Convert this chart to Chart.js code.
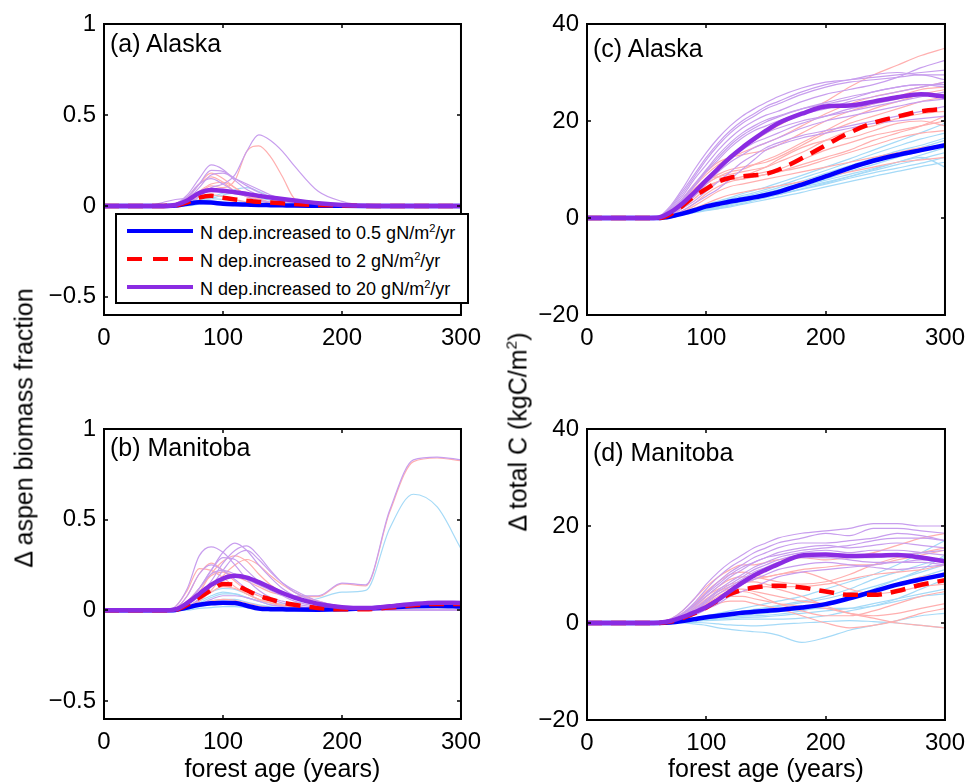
<!DOCTYPE html>
<html>
<head>
<meta charset="utf-8">
<title>N deposition experiments</title>
<script src="https://cdn.jsdelivr.net/npm/chart.js@4.4.1/dist/chart.umd.min.js"></script>
<style>
  body { margin: 0; background: #fff; }
  #fig { position: relative; width: 974px; height: 782px; overflow: hidden; font-family: 'Liberation Sans', Arial, sans-serif; color: #000; }
  #fig canvas { position: absolute; }
  .panel-label { position: absolute; font-size: 25px; line-height: 25px; white-space: nowrap; }
  .ytitle { position: absolute; font-size: 25px; line-height: 25px; white-space: nowrap; transform: translate(-50%, -50%) rotate(-90deg); }
  sup { font-size: 0.62em; vertical-align: 0.62em; line-height: 0; }
  .legend { position: absolute; left: 115px; top: 213px; width: 354px; height: 91px; box-sizing: border-box; border: 2px solid #000; background: #fff; font-size: 18px; }
  .legend .sample { position: absolute; left: 10px; width: 66px; height: 4px; }
  .legend .text { position: absolute; left: 83px; line-height: 18px; white-space: nowrap; }
</style>
</head>
<body>
<div id="fig">
  <canvas id="alaskaFrac" width="490" height="360" style="left:0;top:0"></canvas>
  <canvas id="manitobaFrac" width="490" height="380" style="left:0;top:405px"></canvas>
  <canvas id="alaskaC" width="494" height="360" style="left:480px;top:0"></canvas>
  <canvas id="manitobaC" width="494" height="380" style="left:480px;top:405px"></canvas>
  <div class="panel-label" style="left:110px;top:31px">(a) Alaska</div>
  <div class="panel-label" style="left:110px;top:435px">(b) Manitoba</div>
  <div class="panel-label" style="left:593px;top:36px">(c) Alaska</div>
  <div class="panel-label" style="left:593px;top:440px">(d) Manitoba</div>
  <div class="ytitle" style="left:24px;top:428px">&Delta; aspen biomass fraction</div>
  <div class="ytitle" style="left:518px;top:432px">&Delta; total C (kgC/m<sup>2</sup>)</div>
  <div class="legend" id="legend"></div>
</div>
<script>
// forest age of each sample (years)
var ages = [0, 20, 40, 50, 60, 70, 80, 90, 100, 110, 120, 130, 140, 150, 160, 180, 200, 220, 240, 260, 280, 300];
var ageTicks = [0, 100, 200, 300];
var fracTicks = [-0.5, 0, 0.5, 1];
var carbonTicks = [-20, 0, 20, 40];
var depRates = ['0.5', '2', '20'];

// (a) Alaska, aspen biomass fraction
var aBlue = [0, 0, 0, 0, 0.002, 0.012, 0.02, 0.018, 0.012, 0.009, 0.007, 0.005, 0.004, 0.003, 0.002, 0.001, 0, 0, 0, 0, 0, 0];
var aRed = [0, 0, 0, 0, 0.003, 0.02, 0.045, 0.055, 0.045, 0.035, 0.028, 0.022, 0.018, 0.014, 0.01, 0.005, 0.002, 0, 0, 0, 0, 0];
var aPurple = [0, 0, 0, 0, 0.005, 0.03, 0.07, 0.087, 0.083, 0.075, 0.066, 0.055, 0.046, 0.038, 0.03, 0.015, 0.005, 0.001, 0, 0, 0, 0];
var aThinBlue = [
  [0, 0, 0, 0, 0, 0.01, 0.03, 0.05, 0.07, 0.09, 0.1, 0.08, 0.05, 0.03, 0.015, 0.003, 0, 0, 0, 0, 0, 0],
  [0, 0, 0, 0, 0, 0.005, 0.02, 0.04, 0.06, 0.07, 0.06, 0.045, 0.03, 0.02, 0.01, 0, 0, 0, 0, 0, 0, 0],
  [0, 0, 0, 0, 0, 0.01, 0.03, 0.04, 0.035, 0.03, 0.02, 0.01, 0.005, 0, 0, 0, 0, 0, 0, 0, 0, 0],
  [0, 0, 0, 0, 0, 0, 0.01, 0.02, 0.02, 0.015, 0.01, 0.005, 0, 0, 0, 0, 0, 0, 0, 0, 0, 0]
];
var aThinRed = [
  [0, 0, 0, 0, 0, 0.02, 0.07, 0.11, 0.1, 0.14, 0.3, 0.33, 0.27, 0.16, 0.04, 0, 0, 0, 0, 0, 0, 0],
  [0, 0, 0, 0, 0.005, 0.04, 0.12, 0.18, 0.15, 0.1, 0.06, 0.035, 0.02, 0.01, 0.005, 0, 0, 0, 0, 0, 0, 0],
  [0, 0, 0, 0, 0.01, 0.05, 0.12, 0.16, 0.13, 0.08, 0.05, 0.03, 0.015, 0.008, 0, 0, 0, 0, 0, 0, 0, 0],
  [0, 0, 0, 0, 0, 0.03, 0.08, 0.12, 0.13, 0.1, 0.06, 0.04, 0.02, 0.01, 0, 0, 0, 0, 0, 0, 0, 0],
  [0, 0, 0, 0, 0, 0.02, 0.05, 0.06, 0.05, 0.035, 0.02, 0.01, 0.005, 0, 0, 0, 0, 0, 0, 0, 0, 0]
];
var aThinPurple = [
  [0, 0, 0, 0, 0, 0.01, 0.05, 0.1, 0.12, 0.17, 0.3, 0.39, 0.36, 0.3, 0.22, 0.08, 0.025, 0.003, 0, 0, 0, 0],
  [0, 0, 0, 0, 0.01, 0.06, 0.15, 0.225, 0.2, 0.14, 0.09, 0.06, 0.04, 0.025, 0.015, 0.005, 0, 0, 0, 0, 0, 0],
  [0, 0, 0, 0, 0.005, 0.04, 0.12, 0.195, 0.19, 0.15, 0.11, 0.075, 0.05, 0.03, 0.02, 0.008, 0.002, 0, 0, 0, 0, 0],
  [0, 0, 0, 0, 0, 0.03, 0.1, 0.17, 0.18, 0.15, 0.12, 0.09, 0.06, 0.04, 0.025, 0.01, 0.003, 0, 0, 0, 0, 0],
  [0, 0, 0, 0, 0.01, 0.05, 0.12, 0.15, 0.12, 0.08, 0.05, 0.03, 0.02, 0.01, 0.005, 0, 0, 0, 0, 0, 0, 0],
  [0, 0, 0.005, 0.02, 0.035, 0.04, 0.03, 0.02, 0.01, 0.005, 0, 0, 0, 0, 0, 0, 0, 0, 0, 0, 0, 0]
];

// (b) Manitoba, aspen biomass fraction
var bBlue = [0, 0, 0, 0, 0.002, 0.015, 0.03, 0.038, 0.042, 0.04, 0.025, 0.01, 0.006, 0.005, 0.004, 0.003, 0.005, 0.01, 0.016, 0.022, 0.024, 0.02];
var bRed = [0, 0, 0, 0, 0.003, 0.03, 0.07, 0.11, 0.145, 0.14, 0.11, 0.08, 0.06, 0.042, 0.03, 0.012, 0.005, 0.006, 0.015, 0.028, 0.035, 0.035];
var bPurple = [0, 0, 0, 0, 0.005, 0.04, 0.09, 0.14, 0.175, 0.19, 0.18, 0.155, 0.125, 0.095, 0.07, 0.035, 0.017, 0.012, 0.022, 0.035, 0.042, 0.04];
var bThinBlue = [
  [0, 0, 0, 0, 0, 0.02, 0.05, 0.08, 0.1, 0.09, 0.07, 0.05, 0.04, 0.035, 0.04, 0.065, 0.1, 0.11, 0.45, 0.64, 0.57, 0.34],
  [0, 0, 0, 0, 0, 0.02, 0.06, 0.1, 0.12, 0.115, 0.09, 0.06, 0.04, 0.025, 0.015, 0.005, 0, 0, 0, 0, 0, 0],
  [0, 0, 0, 0, 0, 0.01, 0.04, 0.07, 0.09, 0.09, 0.07, 0.05, 0.03, 0.02, 0.01, 0.003, 0, 0, 0, 0, 0, 0],
  [0, 0, 0, 0, 0, 0.01, 0.03, 0.05, 0.06, 0.06, 0.045, 0.03, 0.02, 0.01, 0.005, 0, 0, 0, 0, 0, 0, 0],
  [0, 0, 0, 0, 0, 0.005, 0.02, 0.03, 0.04, 0.035, 0.025, 0.015, 0.01, 0.005, 0, 0, 0, 0, 0, 0, 0, 0],
  [0, 0, 0, 0, 0, 0, 0.01, 0.015, 0.02, 0.02, 0.015, 0.01, 0.005, 0, 0, 0, 0, 0.005, 0.01, 0.015, 0.02, 0.02]
];
var bThinRed = [
  [0, 0, 0, 0, 0.01, 0.05, 0.12, 0.19, 0.21, 0.19, 0.16, 0.13, 0.1, 0.085, 0.075, 0.075, 0.145, 0.135, 0.54, 0.82, 0.84, 0.825],
  [0, 0, 0, 0, 0, 0.03, 0.1, 0.2, 0.27, 0.3, 0.27, 0.2, 0.14, 0.1, 0.07, 0.03, 0.01, 0, 0, 0, 0, 0],
  [0, 0, 0, 0, 0.01, 0.08, 0.2, 0.26, 0.22, 0.16, 0.11, 0.08, 0.05, 0.03, 0.02, 0.008, 0, 0, 0, 0, 0, 0],
  [0, 0, 0, 0, 0.02, 0.11, 0.23, 0.22, 0.18, 0.13, 0.09, 0.06, 0.04, 0.025, 0.015, 0.005, 0, 0, 0, 0, 0, 0],
  [0, 0, 0, 0, 0, 0.02, 0.05, 0.11, 0.19, 0.25, 0.28, 0.25, 0.19, 0.14, 0.1, 0.05, 0.02, 0.005, 0, 0, 0, 0],
  [0, 0, 0, 0, 0, 0.02, 0.06, 0.1, 0.13, 0.12, 0.09, 0.06, 0.04, 0.025, 0.015, 0.005, 0, 0, 0, 0, 0, 0],
  [0, 0, 0, 0, 0, 0.01, 0.03, 0.05, 0.06, 0.055, 0.04, 0.025, 0.015, 0.01, 0.005, 0, 0, 0, 0, 0, 0, 0]
];
var bThinPurple = [
  [0, 0, 0, 0, 0.01, 0.05, 0.12, 0.2, 0.22, 0.2, 0.17, 0.14, 0.11, 0.09, 0.08, 0.08, 0.15, 0.14, 0.55, 0.83, 0.845, 0.83],
  [0, 0, 0, 0, 0.02, 0.12, 0.3, 0.35, 0.32, 0.25, 0.17, 0.11, 0.07, 0.05, 0.035, 0.015, 0.005, 0, 0, 0, 0, 0],
  [0, 0, 0, 0, 0.005, 0.04, 0.12, 0.22, 0.32, 0.37, 0.33, 0.25, 0.18, 0.12, 0.08, 0.03, 0.01, 0, 0, 0, 0, 0],
  [0, 0, 0, 0, 0, 0.03, 0.08, 0.16, 0.26, 0.33, 0.355, 0.3, 0.22, 0.15, 0.1, 0.04, 0.012, 0, 0, 0, 0, 0],
  [0, 0, 0, 0, 0.01, 0.08, 0.2, 0.25, 0.22, 0.17, 0.12, 0.09, 0.06, 0.04, 0.025, 0.01, 0, 0, 0, 0, 0, 0],
  [0, 0, 0, 0, 0, 0.04, 0.12, 0.22, 0.29, 0.28, 0.22, 0.16, 0.11, 0.08, 0.05, 0.02, 0.005, 0, 0, 0, 0, 0],
  [0, 0, 0, 0, 0, 0.02, 0.06, 0.13, 0.22, 0.3, 0.33, 0.28, 0.21, 0.15, 0.11, 0.05, 0.02, 0.005, 0, 0, 0, 0],
  [0, 0, 0, 0, 0, 0.01, 0.03, 0.06, 0.08, 0.08, 0.07, 0.05, 0.03, 0.02, 0.01, 0.005, 0.005, 0.01, 0.02, 0.035, 0.045, 0.045]
];

// (c) Alaska, total carbon (kgC/m2)
var cBlue = [0, 0, 0, 0, 0, 0.3, 0.9, 1.6, 2.4, 2.9, 3.4, 3.8, 4.25, 4.75, 5.35, 6.9, 8.6, 10.3, 11.8, 13.0, 14.0, 15.0];
var cRed = [0, 0, 0, 0, 0, 0.8, 2.5, 4.5, 6.0, 7.5, 8.3, 8.6, 8.8, 9.1, 9.9, 12.3, 15.0, 17.6, 19.6, 20.9, 22.0, 22.5];
var cPurple = [0, 0, 0, 0, 0.1, 1.2, 3.0, 5.3, 7.8, 10.2, 12.5, 14.5, 16.3, 18.0, 19.5, 21.5, 23.0, 23.2, 24.0, 24.9, 25.5, 25.0];
var cThinBlue = [
  [0, 0, 0, 0, 0, 0.4, 1.2, 2, 2.8, 3.5, 4.2, 5, 5.7, 6.4, 7.2, 8.8, 10.5, 12.2, 14, 15.8, 17.6, 19.5],
  [0, 0, 0, 0, 0, 0.3, 1, 1.8, 2.5, 3.1, 3.7, 4.3, 4.9, 5.5, 6.2, 7.6, 9.2, 10.8, 12.3, 13.8, 15, 16.5],
  [0, 0, 0, 0, 0, 0.3, 0.9, 1.5, 2.1, 2.7, 3.2, 3.7, 4.2, 4.8, 5.4, 6.7, 8.1, 9.6, 11, 12.5, 13.8, 15],
  [0, 0, 0, 0, 0, 0.2, 0.8, 1.3, 1.8, 2.3, 2.8, 3.3, 3.8, 4.3, 4.8, 6, 7.2, 8.5, 9.8, 11, 12.2, 13.5],
  [0, 0, 0, 0, 0, 0.2, 0.6, 1.1, 1.5, 1.9, 2.3, 2.8, 3.3, 3.8, 4.3, 5.3, 6.4, 7.5, 8.6, 9.6, 10.6, 11.5],
  [0, 0, 0, 0, 0, 0.2, 0.7, 1.2, 1.7, 2.2, 2.8, 3.4, 4, 4.6, 5.2, 6.5, 7.8, 9, 10.2, 11.5, 12.5, 10.5],
  [0, 0, 0, 0, 0, 0.3, 1, 1.6, 2.3, 3, 3.6, 4.1, 4.6, 5.2, 5.8, 7.2, 8.6, 10, 11.5, 13, 14.5, 16],
  [0, 0, 0, 0, 0, 0.3, 0.9, 1.4, 1.9, 2.4, 2.9, 3.5, 4.1, 4.7, 5.3, 6.4, 7.4, 8.6, 10, 11.5, 13, 14.5],
  [0, 0, 0, 0, 0, 0.4, 1.1, 1.9, 2.6, 3.3, 3.9, 4.6, 5.2, 5.9, 6.6, 8.2, 9.8, 11.5, 13.2, 14.8, 16.3, 17.5],
  [0, 0, 0, 0, 0, 0.2, 0.7, 1.2, 1.6, 2, 2.5, 3, 3.6, 4.2, 4.8, 5.9, 7, 8.2, 9.3, 10.3, 11.3, 12.5]
];
var cThinRed = [
  [0, 0, 0, 0, 0.1, 1, 3, 5.5, 8, 10.5, 12.5, 14.5, 16, 17.5, 19, 21.5, 24, 27, 29.5, 31.5, 33.5, 35],
  [0, 0, 0, 0, 0.1, 1.5, 4, 7, 9.5, 11.5, 12.5, 13, 13.5, 14, 15, 17.5, 20, 22, 23.5, 25, 26.5, 27],
  [0, 0, 0, 0, 0, 1, 3, 5.5, 7.5, 9, 10, 10.5, 11, 11.5, 12.5, 15, 17.5, 19.5, 21, 22.5, 24, 25],
  [0, 0, 0, 0, 0, 0.8, 2.5, 5, 7, 8.5, 9, 9.5, 10, 10.5, 11.5, 13.5, 16, 18, 19, 20.5, 21.5, 22],
  [0, 0, 0, 0, 0, 0.6, 2, 4, 6, 7.5, 8, 8.5, 9, 9.5, 10, 12, 14, 15.5, 17, 18, 19, 20],
  [0, 0, 0, 0, 0, 0.5, 1.5, 3, 5, 6.5, 7.5, 8, 8.5, 9, 9.5, 10.5, 12, 13.5, 15, 16.5, 17.5, 18],
  [0, 0, 0, 0, 0, 0.4, 1.2, 2.5, 4, 5.5, 6.5, 7, 7.5, 8, 8.5, 9.5, 10.5, 11.5, 12.5, 13.5, 14.5, 15],
  [0, 0, 0, 0, 0, 0.3, 1, 2, 3, 4, 4.8, 5.3, 5.8, 6.2, 6.6, 7.5, 8.5, 9.5, 10.5, 11.5, 12, 12.5],
  [0, 0, 0, 0, 0.1, 1.2, 3.5, 6, 8, 8.5, 8, 8.5, 9.5, 10.5, 12, 14.5, 16, 16.5, 18, 19.5, 20, 19],
  [0, 0, 0, 0, 0, 0.9, 2.8, 5, 7, 8.5, 9.5, 10, 11, 12, 13, 15.5, 18, 20.5, 22.5, 24, 25.5, 26.5],
  [0, 0, 0, 0, 0, 0.7, 2.2, 4.5, 6.5, 7.5, 8, 8, 8.5, 9, 9.5, 11, 12.5, 14, 16, 17.5, 19, 21],
  [0, 0, 0, 0, 0.1, 1.2, 3.5, 6.5, 9, 11, 12.5, 13.5, 14.5, 15.5, 16.5, 19, 21.5, 23.5, 25, 26, 27, 28]
];
var cThinPurple = [
  [0, 0, 0, 0, 0.3, 2.5, 6, 10, 13.5, 16.5, 19, 21, 22.5, 23.8, 25, 26.8, 28, 28.5, 29.5, 30, 29.5, 29.5],
  [0, 0, 0, 0, 0.2, 2, 5, 8.5, 12, 15, 17.5, 19.5, 21, 22.5, 23.5, 25.5, 27, 28, 28.5, 29, 29.5, 28.5],
  [0, 0, 0, 0, 0.2, 1.8, 4.5, 8, 11, 14, 16.5, 18.5, 20, 21.2, 22, 24, 25.5, 26.5, 27.5, 29, 31, 32.5],
  [0, 0, 0, 0, 0.1, 1.5, 4, 7, 10, 13, 15.5, 17.5, 19, 20.2, 21, 22.5, 23.5, 24.5, 26, 27, 27.5, 27],
  [0, 0, 0, 0, 0.1, 1.2, 3.5, 6.5, 9.5, 12, 14.5, 16.5, 18, 19, 20, 21.5, 22.5, 24, 25, 26, 27, 28],
  [0, 0, 0, 0, 0, 1, 3, 5.5, 8, 10.5, 12.5, 14.5, 16, 17.5, 18.5, 20, 21, 22, 23, 24, 25, 26],
  [0, 0, 0, 0, 0, 0.8, 2.5, 4.5, 7, 9.5, 11.5, 13, 14.5, 15.5, 16.5, 18.5, 20, 21, 22, 23, 24, 24.5],
  [0, 0, 0, 0, 0, 0.6, 2, 3.5, 5.5, 7.5, 9.5, 11.5, 13, 14.5, 15.5, 17, 18, 19, 20, 21, 22, 23],
  [0, 0, 0, 0, 0, 0.4, 1.5, 3, 4.5, 6, 8, 10, 12, 14, 15, 16.5, 17.5, 18.5, 19.5, 20, 20.5, 21],
  [0, 0, 0, 0, 0.2, 2.2, 5.5, 9, 12.5, 15.5, 18, 20, 21.5, 23, 24, 26, 27.5, 28.5, 29, 29.5, 30, 30.5],
  [0, 0, 0, 0, 0.1, 1.4, 3.8, 6.8, 9.8, 12.5, 15, 17, 18.5, 19.8, 20.8, 22.5, 23.8, 25, 26, 27, 27.5, 27.5],
  [0, 0, 0, 0, 0, 0.9, 2.8, 5, 7.5, 10, 12, 14, 15.5, 16.5, 17.5, 19.5, 21, 22.5, 23.5, 24.5, 25.5, 25.5]
];

// (d) Manitoba, total carbon (kgC/m2)
var dBlue = [0, 0, 0, 0, 0, 0.1, 0.4, 0.8, 1.2, 1.5, 1.8, 2.1, 2.3, 2.5, 2.7, 3.2, 3.9, 5.1, 6.5, 7.9, 9.0, 10.0];
var dRed = [0, 0, 0, 0, 0, 0.3, 1, 2, 3.2, 4.7, 6, 6.8, 7.3, 7.6, 7.7, 7.3, 6.5, 5.8, 5.8, 6.6, 7.9, 8.8];
var dPurple = [0, 0, 0, 0, 0.05, 0.4, 1.2, 2.2, 3.3, 4.8, 6.6, 8.3, 9.8, 11.0, 12.1, 13.9, 14.1, 13.8, 13.9, 14.0, 13.5, 12.7];
var dThinBlue = [
  [0, 0, 0, 0, 0, 0.2, 0.5, 1, 1.5, 2, 2.5, 3, 3.5, 4, 4.5, 5.5, 7, 8.5, 10, 12, 14.5, 17],
  [0, 0, 0, 0, 0, 0.1, 0.4, 0.8, 1.2, 1.6, 2, 2.4, 2.8, 3.2, 3.6, 4.5, 5.5, 7, 9, 10.5, 12, 13.5],
  [0, 0, 0, 0, 0, 0.1, 0.3, 0.6, 0.9, 1.2, 1.5, 1.8, 2, 2.2, 2.4, 3, 4, 5, 6.5, 8, 9.5, 11],
  [0, 0, 0, 0, 0, 0, 0.2, 0.4, 0.6, 0.8, 1, 1.1, 1.2, 1.3, 1.5, 2, 2.5, 3, 4, 5, 6, 7],
  [0, 0, 0, 0, 0, 0, 0, -0.2, -0.5, -1, -1.3, -1.6, -1.8, -2, -2.5, -4, -3, -1.5, -0.5, 0.5, 1.5, 2],
  [0, 0, 0, 0, 0, 0, 0.1, 0.1, 0, -0.2, -0.4, -0.5, -0.6, -0.5, -0.3, 0, 0.3, 0.5, 0.3, 0, -0.5, -1],
  [0, 0, 0, 0, 0, 0.1, 0.3, 0.5, 0.8, 1, 1.3, 1.5, 1.8, 2, 2.3, 2.8, 3, 3, 3.5, 4.5, 5.5, 6],
  [0, 0, 0, 0, 0, 0.1, 0.4, 0.7, 1, 1.4, 1.8, 2.2, 2.6, 3, 3.4, 4.2, 5, 6.2, 7.5, 9, 10.5, 12],
  [0, 0, 0, 0, 0, 0.1, 0.2, 0.4, 0.5, 0.6, 0.7, 0.8, 0.8, 0.8, 0.8, 1, 1.5, 2.5, 3.5, 5, 7, 9],
  [0, 0, 0, 0, 0, 0.1, 0.3, 0.6, 0.9, 1.1, 1.3, 1.4, 1.5, 1.6, 1.8, 2.5, 3.5, 5, 7, 9, 11, 14]
];
var dThinRed = [
  [0, 0, 0, 0, 0.1, 0.8, 2.5, 5, 7.5, 9.5, 11, 12, 12, 12.5, 13, 13.5, 13, 13.5, 14.5, 16, 17.5, 18.5],
  [0, 0, 0, 0, 0, 0.6, 2, 4, 6.5, 8.5, 10, 10.5, 10, 9.5, 10, 11, 11.5, 12, 12, 13, 14, 15],
  [0, 0, 0, 0, 0, 0.5, 1.7, 3.5, 5.5, 7, 8, 8.5, 8.5, 8, 7.5, 7.5, 8, 9, 10, 10.5, 11, 12],
  [0, 0, 0, 0, 0, 0.4, 1.4, 3, 4.5, 6, 7, 7, 6.5, 6, 5.5, 4.5, 4, 5, 6.5, 8, 9.5, 10],
  [0, 0, 0, 0, 0, 0.4, 1.2, 2.5, 4, 5.5, 6.5, 6.5, 6, 5, 4, 2.5, 1.5, 1.5, 2.5, 4, 5.5, 6.5],
  [0, 0, 0, 0, 0, 0.3, 1, 2, 3, 4, 4.5, 4.5, 4, 3.5, 3, 1.5, 0, -1, -0.5, 0.5, 2, 3],
  [0, 0, 0, 0, 0, 0.3, 1, 2, 3.5, 5, 6, 6.5, 7, 7.5, 7, 5.5, 3.5, 2, 1, 0, -0.5, -1],
  [0, 0, 0, 0, 0, 0.5, 1.5, 3, 5, 6.5, 7.5, 8, 9, 9.5, 10, 10.5, 9, 7, 6, 6.5, 7.5, 8],
  [0, 0, 0, 0, 0, 0.6, 1.8, 3.5, 5.5, 7.5, 9, 9.5, 9.5, 9, 8.5, 8, 8.5, 10, 12, 13.5, 14.5, 15.5],
  [0, 0, 0, 0, 0, 0.4, 1.3, 2.6, 4, 5, 5.5, 5.5, 5, 4.5, 4, 3.5, 3, 2, 1.5, 2, 3, 4]
];
var dThinPurple = [
  [0, 0, 0, 0, 0.1, 0.8, 2.5, 5, 8, 10.5, 12.5, 14, 15.5, 16.5, 17.5, 18.5, 19, 19.5, 20.5, 20.5, 20, 20],
  [0, 0, 0, 0, 0.1, 0.7, 2, 4.2, 7, 9.5, 11.5, 13, 14.5, 15.5, 16.5, 17.5, 18.5, 18, 19.5, 19.5, 19, 18.5],
  [0, 0, 0, 0, 0, 0.5, 1.8, 3.8, 6.2, 8.5, 10.5, 12, 13.5, 14.5, 15.5, 16.5, 16.5, 17, 17.5, 18.5, 18, 17],
  [0, 0, 0, 0, 0, 0.5, 1.5, 3.2, 5.5, 7.5, 9.5, 11, 12.5, 13.5, 14.5, 15.5, 16, 15.5, 16, 16.5, 16, 15.5],
  [0, 0, 0, 0, 0, 0.4, 1.3, 2.8, 4.8, 6.8, 8.5, 10, 11.5, 12.5, 13.5, 14.5, 15, 14.5, 15, 15, 14.5, 14],
  [0, 0, 0, 0, 0, 0.3, 1.1, 2.4, 4.2, 6, 7.5, 9, 10.5, 11.5, 12.5, 13.5, 13.5, 13, 12.5, 12.5, 13, 13],
  [0, 0, 0, 0, 0, 0.3, 1, 2, 3.5, 5, 6.5, 8, 9, 10, 11, 12, 12.5, 12, 11.5, 11, 11.5, 12],
  [0, 0, 0, 0, 0, 0.2, 0.8, 1.6, 2.8, 4, 5.5, 6.5, 7.5, 8.5, 9.5, 10.5, 11, 11.5, 12, 12.5, 12.5, 12],
  [0, 0, 0, 0, 0.1, 0.6, 1.8, 3.6, 6, 8, 10, 11.5, 12.5, 13.5, 14, 15, 15.5, 16, 17, 17.5, 17.5, 17],
  [0, 0, 0, 0, 0, 0.4, 1.2, 2.5, 4.5, 6.5, 8, 9.5, 11, 12, 13, 14, 14, 13.5, 13.5, 14, 14.5, 15]
];

var meanColors = ['rgb(0,0,255)', 'rgb(255,0,0)', 'rgb(138,43,226)'];
var thinColors = ['rgb(165,218,247)', 'rgb(255,175,175)', 'rgb(200,158,238)'];
var fontFamily = "'Liberation Sans', Arial, Helvetica, sans-serif";

Chart.defaults.font.family = fontFamily;
Chart.defaults.color = '#000';

function toPoints(vals) {
  return vals.map(function(v, i) {
    return {x: ages[i], y: v}
  })
}

// matlab style frame: box all round, ticks pointing inwards
var axesBox = {
  id: 'axesBox',
  afterDatasetsDraw: function(chart) {
    var ctx = chart.ctx, a = chart.chartArea;
    var xs = chart.scales.x, ys = chart.scales.y;
    ctx.save();
    ctx.strokeStyle = '#000';
    ctx.lineWidth = 1.5;
    ctx.beginPath();
    xs.ticks.forEach(function(t) {
      var px = Math.round(xs.getPixelForValue(t.value));
      ctx.moveTo(px, a.bottom);
      ctx.lineTo(px, a.bottom - 4);
      ctx.moveTo(px, a.top);
      ctx.lineTo(px, a.top + 4);
    });
    ys.ticks.forEach(function(t) {
      var py = Math.round(ys.getPixelForValue(t.value));
      ctx.moveTo(a.left, py);
      ctx.lineTo(a.left + 4, py);
      ctx.moveTo(a.right, py);
      ctx.lineTo(a.right - 4, py);
    });
    ctx.stroke();
    ctx.lineWidth = 2;
    ctx.strokeRect(a.left, a.top, a.right - a.left, a.bottom - a.top);
    ctx.restore();
  }
};

function makePanel(id, thin, means, yMin, yMax, yTicks, yWidth, xHeight, padRight, xTitle) {
  var datasets = [];
  // thin members first (drawn underneath), purple on top of red on top of blue
  [2, 1, 0].forEach(function(k) {
    thin[k].forEach(function(vals) {
      datasets.push({
        data: toPoints(vals),
        borderColor: thinColors[k],
        borderWidth: 1.2,
        pointRadius: 0,
        cubicInterpolationMode: 'monotone',
        order: 3 + (2 - k)
      })
    })
  });
  [2, 1, 0].forEach(function(k) {
    datasets.push({
      data: toPoints(means[k]),
      borderColor: meanColors[k],
      borderWidth: 4.5,
      borderDash: k == 1 ? [15, 9] : [],
      pointRadius: 0,
      cubicInterpolationMode: 'monotone',
      order: 2 - k
    })
  });

  new Chart(document.getElementById(id), {
    type: 'line',
    data: {datasets: datasets},
    plugins: [axesBox],
    options: {
      responsive: false,
      animation: false,
      devicePixelRatio: 1,
      layout: {padding: {top: 24, right: padRight, left: 0, bottom: 0}},
      plugins: {legend: {display: false}, tooltip: {enabled: false}},
      scales: {
        x: {
          type: 'linear',
          min: 0,
          max: 300,
          afterBuildTicks: function(s) { s.ticks = ageTicks.map(function(v) { return {value: v} }) },
          afterFit: function(s) { s.height = xHeight },
          grid: {display: false, drawTicks: false},
          border: {display: false},
          ticks: {padding: 9, maxRotation: 0, autoSkip: false, font: {size: 24}, color: '#000'},
          title: {display: !!xTitle, text: xTitle || '', font: {size: 25}, color: '#000', padding: 0}
        },
        y: {
          type: 'linear',
          min: yMin,
          max: yMax,
          afterBuildTicks: function(s) { s.ticks = yTicks.map(function(v) { return {value: v} }) },
          afterFit: function(s) { s.width = yWidth },
          grid: {display: false, drawTicks: false},
          border: {display: false},
          ticks: {
            padding: 8,
            font: {size: 24},
            color: '#000',
            callback: function(v) { return String(v).replace('-', '\u2212') }
          }
        }
      }
    }
  })
}

makePanel('alaskaFrac', [aThinBlue, aThinRed, aThinPurple], [aBlue, aRed, aPurple], -0.6, 1, fracTicks, 104, 45, 22, null);
makePanel('manitobaFrac', [bThinBlue, bThinRed, bThinPurple], [bBlue, bRed, bPurple], -0.6, 1, fracTicks, 104, 66, 22, 'forest age (years)');
makePanel('alaskaC', [cThinBlue, cThinRed, cThinPurple], [cBlue, cRed, cPurple], -20, 40, carbonTicks, 107, 45, 23, null);
makePanel('manitobaC', [dThinBlue, dThinRed, dThinPurple], [dBlue, dRed, dPurple], -20, 40, carbonTicks, 107, 65, 23, 'forest age (years)');

// legend for the three mean curves
var legend = document.getElementById('legend');
depRates.forEach(function(rate, i) {
  var sample = document.createElement('span');
  sample.className = 'sample';
  sample.style.top = (14 + i * 28) + 'px';
  sample.style.background = i == 1
    ? 'repeating-linear-gradient(90deg, ' + meanColors[i] + ' 0 15px, transparent 15px 26px)'
    : meanColors[i];
  var text = document.createElement('span');
  text.className = 'text';
  text.style.top = (9 + i * 28) + 'px';
  text.innerHTML = 'N dep.increased to ' + rate + ' gN/m<sup>2</sup>/yr';
  legend.appendChild(sample);
  legend.appendChild(text);
});
</script>
</body>
</html>
